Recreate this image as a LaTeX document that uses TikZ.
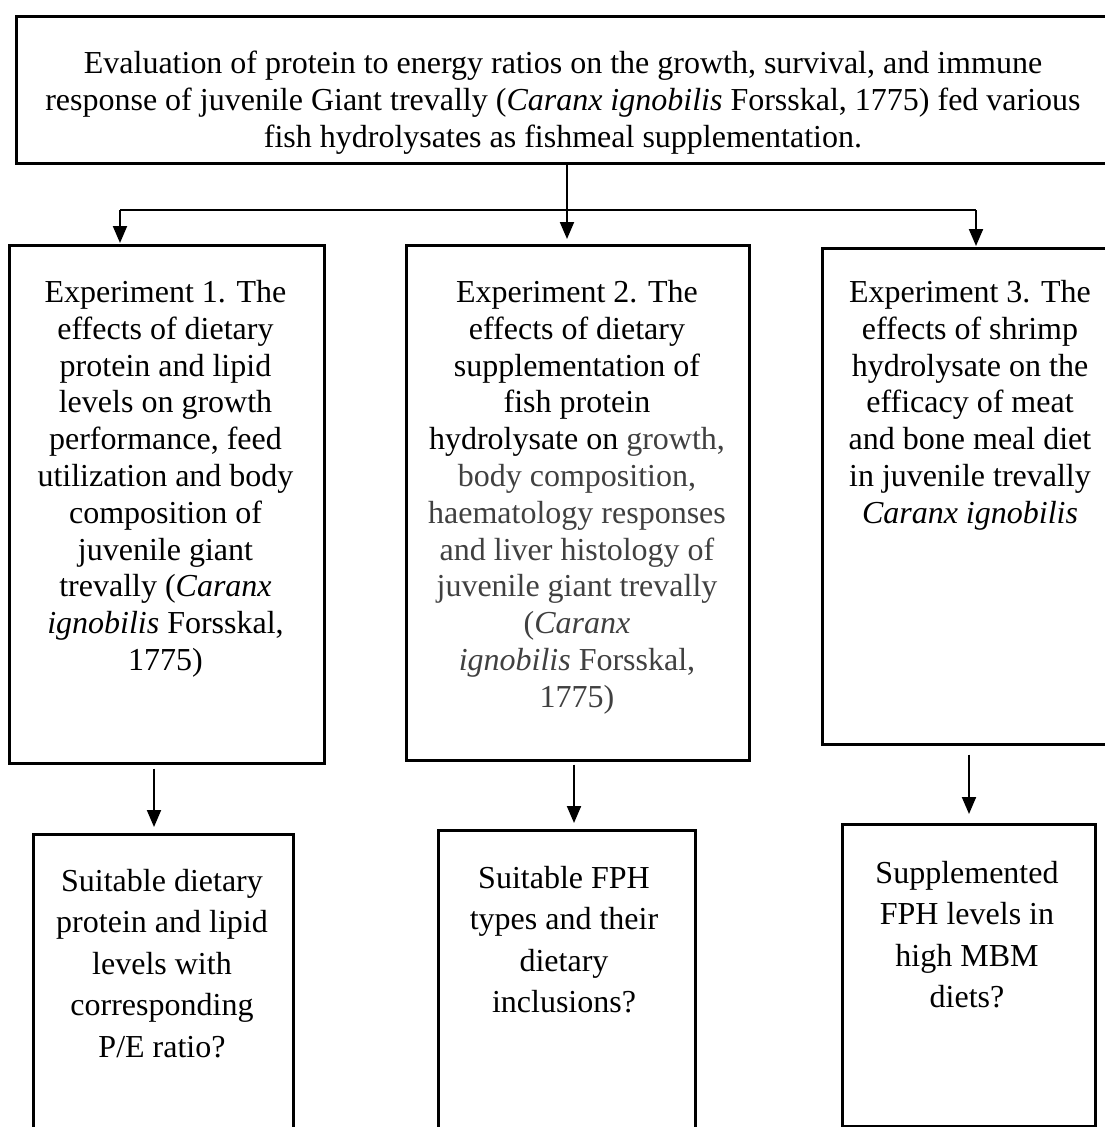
\documentclass[tikz,border=0pt]{standalone}
\usepackage{fontspec}
\setmainfont{Liberation Serif}
\usetikzlibrary{arrows.meta,positioning}
\definecolor{gtxt}{HTML}{404040}
\begin{document}
\begin{tikzpicture}[x=1pt,y=-1pt,
  boxnode/.style={draw=black,line width=2.6pt,inner sep=0pt,anchor=north west},
  txt/.style={align=center,inner sep=0pt,anchor=north,font=\fontsize{32}{36.8}\selectfont},
  ttxt/.style={align=center,inner sep=0pt,anchor=north,font=\fontsize{32}{37}\selectfont},
  btxt/.style={align=center,inner sep=0pt,anchor=north,font=\fontsize{32}{41.5}\selectfont},
  conn/.style={line width=2pt},
  arr/.style={line width=2pt,-{Triangle[length=17pt,width=14pt]}}]
\useasboundingbox (0,0) rectangle (1105,1127);
% top box
\node[boxnode,minimum width=1120pt,minimum height=147pt] (top) at (15,15) {};
\node[ttxt] (toptxt) at (563,51) {Evaluation of protein to energy ratios on the growth, survival, and immune\\
response of juvenile Giant trevally (\textit{Caranx ignobilis} Forsskal, 1775) fed various\\
fish hydrolysates as fishmeal supplementation.};
% experiment boxes
\node[boxnode,minimum width=315pt,minimum height=518pt] (e1) at (8,244) {};
\node[boxnode,minimum width=343pt,minimum height=515pt] (e2) at (405,244) {};
\node[boxnode,minimum width=320pt,minimum height=496pt] (e3) at (821,247) {};
\node[txt] (e1t) at (165.5,280) {Experiment 1. The\\ effects of dietary\\ protein and lipid\\ levels on growth\\ performance, feed\\ utilization and body\\ composition of\\ juvenile giant\\ trevally (\textit{Caranx}\\ \textit{ignobilis} Forsskal,\\ 1775)};
\node[txt] (e2t) at (577,280) {Experiment 2. The\\ effects of dietary\\ supplementation of\\ fish protein\\ hydrolysate on \textcolor{gtxt}{growth,}\\ \color{gtxt}body composition,\\ \color{gtxt}haematology responses\\ \color{gtxt}and liver histology of\\ \color{gtxt}juvenile giant trevally\\ \color{gtxt}(\textit{Caranx}\\ \color{gtxt}\textit{ignobilis} Forsskal,\\ \color{gtxt}1775)};
\node[txt] (e3t) at (970,280) {Experiment 3. The\\ effects of shrimp\\ hydrolysate on the\\ efficacy of meat\\ and bone meal diet\\ in juvenile trevally\\ \textit{Caranx ignobilis}};
% bottom boxes
\node[boxnode,minimum width=260pt,minimum height=320pt] (b1) at (32,833) {};
\node[boxnode,minimum width=257pt,minimum height=320pt] (b2) at (437,829) {};
\node[boxnode,minimum width=253pt,minimum height=302pt] (b3) at (841,823) {};
\node[btxt] (b1t) at (162,869) {Suitable dietary\\ protein and lipid\\ levels with\\ corresponding\\ P/E ratio?};
\node[btxt] (b2t) at (564,866) {Suitable FPH\\ types and their\\ dietary\\ inclusions?};
\node[btxt] (b3t) at (967,861) {Supplemented\\ FPH levels in\\ high MBM\\ diets?};
% connectors
\coordinate (j1) at (120,210);
\coordinate (j2) at (567,210);
\coordinate (j3) at (976,210);
\coordinate (a1) at (154,0);
\coordinate (a2) at (574,0);
\coordinate (a3) at (969,0);
\draw[arr,shorten >=5pt] (top.south -| j2) -- (e2.north -| j2);
\draw[conn] (j1) -- (j3);
\draw[arr,shorten >=1pt] (j1) -- (e1.north -| j1);
\draw[arr,shorten >=1pt] (j3) -- (e3.north -| j3);
\draw[arr,shorten <=4pt,shorten >=6pt] (e1.south -| a1) -- (b1.north -| a1);
\draw[arr,shorten <=3pt,shorten >=6pt] (e2.south -| a2) -- (b2.north -| a2);
\draw[arr,shorten <=9pt,shorten >=9pt] (e3.south -| a3) -- (b3.north -| a3);
\end{tikzpicture}
\end{document}
